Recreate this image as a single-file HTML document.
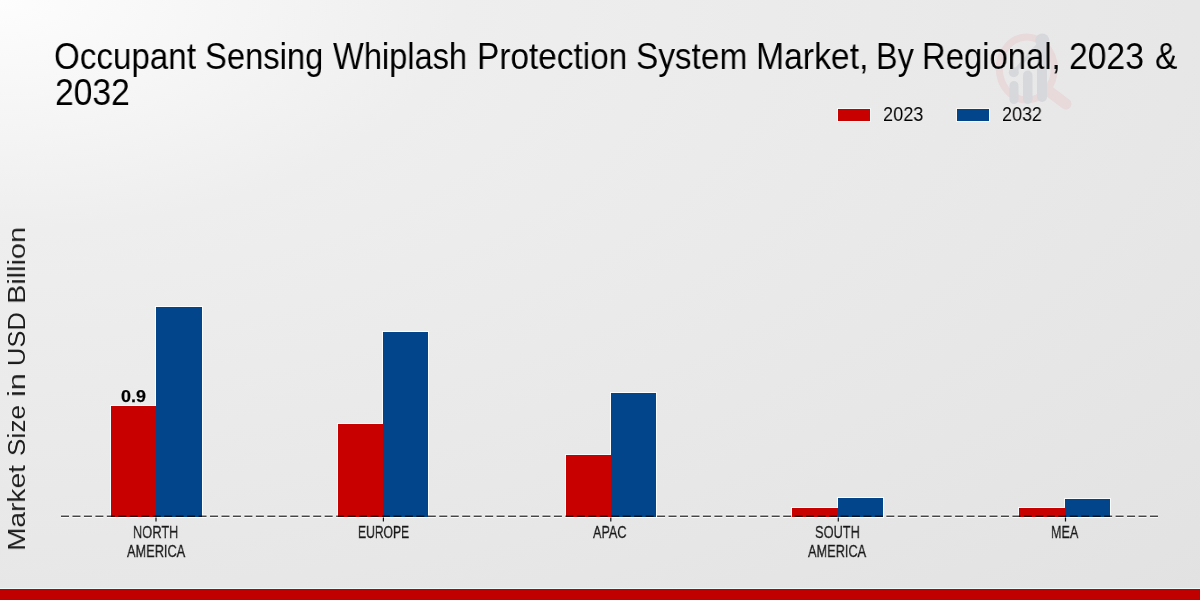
<!DOCTYPE html>
<html><head><meta charset="utf-8"><style>
html,body{margin:0;padding:0;}
body{width:1200px;height:600px;position:relative;overflow:hidden;
background:radial-gradient(1700px 850px at 0 0,#fdfdfd 0%,#eeeeee 27%,#e7e7e7 70%,#e2e2e2 100%);
font-family:"Liberation Sans",sans-serif;}
.t{position:absolute;white-space:nowrap;line-height:1;transform-origin:0 0;will-change:transform;text-shadow:0 0 1px rgba(255,255,255,.9),0 0 1px rgba(255,255,255,.9);}
.b{position:absolute;}
</style></head><body>
<svg style="position:absolute;left:0;top:0" width="1200" height="600">
<g opacity="1">
<ellipse cx="1026.8" cy="68.5" rx="27.5" ry="31.5" fill="none" stroke="#e8d9db" stroke-width="7"/>
<line x1="1050" y1="92" x2="1066" y2="104" stroke="#e8d9db" stroke-width="11" stroke-linecap="round"/>
<rect x="1009.5" y="81" width="9" height="23" rx="4.5" fill="#d6d8db"/>
<circle cx="1013.8" cy="72.3" r="5" fill="#d6d8db"/>
<rect x="1023" y="70.5" width="9.5" height="33.5" rx="4.7" fill="#d6d8db"/>
<rect x="1037" y="44" width="10" height="58" rx="5" fill="#d6d8db"/>
<circle cx="1042.3" cy="40.5" r="7" fill="#d6d8db"/>

<polyline points="1013.8,72.3 1027.8,56 1042.3,40.5" fill="none" stroke="#d6d8db" stroke-width="3.5"/>
</g></svg>
<svg style="position:absolute;left:0;top:0" width="1200" height="600"><line x1="61" y1="516.2" x2="1159" y2="516.2" stroke="#ffffff" stroke-opacity=".85" stroke-width="3.4" stroke-dasharray="8 3.463"/></svg>
<div class="b" style="left:155.5px;top:307.30px;width:46.00px;height:209.70px;background:#03458a;box-shadow:0 0 0 1px rgba(255,255,255,.85)"></div>
<div class="b" style="left:383.0px;top:331.80px;width:45.30px;height:185.20px;background:#03458a;box-shadow:0 0 0 1px rgba(255,255,255,.85)"></div>
<div class="b" style="left:610.5px;top:393.20px;width:45.00px;height:123.80px;background:#03458a;box-shadow:0 0 0 1px rgba(255,255,255,.85)"></div>
<div class="b" style="left:838px;top:498.30px;width:45.00px;height:18.70px;background:#03458a;box-shadow:0 0 0 1px rgba(255,255,255,.85)"></div>
<div class="b" style="left:1065.2px;top:498.50px;width:45.10px;height:18.50px;background:#03458a;box-shadow:0 0 0 1px rgba(255,255,255,.85)"></div>
<div class="b" style="left:110.5px;top:405.80px;width:45.00px;height:111.20px;background:#c80000;box-shadow:-1px -1px 0 0 rgba(245,255,255,.85),0 1px 0 0 rgba(255,255,255,.85)"></div>
<div class="b" style="left:337.8px;top:424.00px;width:45.20px;height:93.00px;background:#c80000;box-shadow:-1px -1px 0 0 rgba(245,255,255,.85),0 1px 0 0 rgba(255,255,255,.85)"></div>
<div class="b" style="left:565.5px;top:455.00px;width:45.00px;height:62.00px;background:#c80000;box-shadow:-1px -1px 0 0 rgba(245,255,255,.85),0 1px 0 0 rgba(255,255,255,.85)"></div>
<div class="b" style="left:792px;top:508.20px;width:46.00px;height:8.80px;background:#c80000;box-shadow:-1px -1px 0 0 rgba(245,255,255,.85),0 1px 0 0 rgba(255,255,255,.85)"></div>
<div class="b" style="left:1019.2px;top:508.30px;width:46.00px;height:8.70px;background:#c80000;box-shadow:-1px -1px 0 0 rgba(245,255,255,.85),0 1px 0 0 rgba(255,255,255,.85)"></div>
<svg style="position:absolute;left:0;top:0" width="1200" height="600">
<line x1="61" y1="516.2" x2="1159" y2="516.2" stroke="#000" stroke-opacity=".72" stroke-width="1.4" stroke-dasharray="8 3.463"/>
<line x1="156.0" y1="517.5" x2="156.0" y2="521.5" stroke="#111" stroke-width="1.2"/>
<line x1="383.4" y1="517.5" x2="383.4" y2="521.5" stroke="#111" stroke-width="1.2"/>
<line x1="610.8" y1="517.5" x2="610.8" y2="521.5" stroke="#111" stroke-width="1.2"/>
<line x1="838.3" y1="517.5" x2="838.3" y2="521.5" stroke="#111" stroke-width="1.2"/>
<line x1="1065.5" y1="517.5" x2="1065.5" y2="521.5" stroke="#111" stroke-width="1.2"/>
</svg>
<div class="b" style="left:838px;top:109px;width:32px;height:12.3px;background:#c80000;box-shadow:0 0 0 1px rgba(245,255,255,.8)"></div>
<div class="b" style="left:957px;top:109px;width:32px;height:12.3px;background:#03458a;box-shadow:0 0 0 1px rgba(255,250,245,.8)"></div>
<div class="t" style="left:53.71px;top:39.05px;font-size:36.96px;font-weight:400;color:#000;transform:scaleX(0.8974)">Occupant</div>
<div class="t" style="left:205.23px;top:39.05px;font-size:36.96px;font-weight:400;color:#000;transform:scaleX(0.8857)">Sensing</div>
<div class="t" style="left:332.75px;top:39.05px;font-size:36.96px;font-weight:400;color:#000;transform:scaleX(0.8817)">Whiplash</div>
<div class="t" style="left:476.79px;top:39.05px;font-size:36.96px;font-weight:400;color:#000;transform:scaleX(0.9037)">Protection</div>
<div class="t" style="left:635.69px;top:39.05px;font-size:36.96px;font-weight:400;color:#000;transform:scaleX(0.9034)">System</div>
<div class="t" style="left:756.01px;top:39.05px;font-size:36.96px;font-weight:400;color:#000;transform:scaleX(0.9124)">Market,</div>
<div class="t" style="left:876.12px;top:39.05px;font-size:36.96px;font-weight:400;color:#000;transform:scaleX(0.875)">By</div>
<div class="t" style="left:922.33px;top:39.05px;font-size:36.96px;font-weight:400;color:#000;transform:scaleX(0.8887)">Regional,</div>
<div class="t" style="left:1069.48px;top:39.05px;font-size:36.96px;font-weight:400;color:#000;transform:scaleX(0.9114)">2023</div>
<div class="t" style="left:1154.89px;top:39.05px;font-size:36.96px;font-weight:400;color:#000;transform:scaleX(0.9087)">&amp;</div>
<div class="t" style="left:54.55px;top:74.75px;font-size:36.43px;font-weight:400;color:#000;transform:scaleX(0.9234)">2032</div>
<div class="t" style="left:882.85px;top:104.35px;font-size:20.14px;font-weight:400;color:#000;transform:scaleX(0.9012)">2023</div>
<div class="t" style="left:1002.01px;top:104.35px;font-size:20.14px;font-weight:400;color:#000;transform:scaleX(0.8919)">2032</div>
<div class="t" style="left:133.0px;top:524.2px;font-size:17.1px;font-weight:400;color:#1a1a1a;-webkit-text-stroke:0.3px #111;transform:scaleX(0.7509)">NORTH</div>
<div class="t" style="left:127.1px;top:544.3px;font-size:16.81px;font-weight:400;color:#1a1a1a;-webkit-text-stroke:0.3px #111;transform:scaleX(0.7605)">AMERICA</div>
<div class="t" style="left:357.79px;top:524.2px;font-size:17.1px;font-weight:400;color:#1a1a1a;-webkit-text-stroke:0.3px #111;transform:scaleX(0.7085)">EUROPE</div>
<div class="t" style="left:593.25px;top:524.2px;font-size:17.1px;font-weight:400;color:#1a1a1a;-webkit-text-stroke:0.3px #111;transform:scaleX(0.7386)">APAC</div>
<div class="t" style="left:815.05px;top:524.2px;font-size:17.1px;font-weight:400;color:#1a1a1a;-webkit-text-stroke:0.3px #111;transform:scaleX(0.75)">SOUTH</div>
<div class="t" style="left:808.3px;top:544.3px;font-size:16.81px;font-weight:400;color:#1a1a1a;-webkit-text-stroke:0.3px #111;transform:scaleX(0.7592)">AMERICA</div>
<div class="t" style="left:1051.26px;top:524.2px;font-size:17.1px;font-weight:400;color:#1a1a1a;-webkit-text-stroke:0.3px #111;transform:scaleX(0.7361)">MEA</div>
<div class="t" style="left:120.87px;top:388.35px;font-size:16.48px;font-weight:700;color:#000;-webkit-text-stroke:0.25px #000;transform:scaleX(1.09)">0.9</div>
<div class="t" style="left:5.15px;top:550.53px;font-size:24.2px;color:#1a1a1a;transform:rotate(-90deg) scaleX(1.1625)">Market</div>
<div class="t" style="left:5.15px;top:456.08px;font-size:24.2px;color:#1a1a1a;transform:rotate(-90deg) scaleX(1.0833)">Size</div>
<div class="t" style="left:5.15px;top:397.03px;font-size:24.2px;color:#1a1a1a;transform:rotate(-90deg) scaleX(1.2667)">in</div>
<div class="t" style="left:5.15px;top:365.6px;font-size:24.2px;color:#1a1a1a;transform:rotate(-90deg) scaleX(1.0521)">USD</div>
<div class="t" style="left:5.15px;top:303.89px;font-size:24.2px;color:#1a1a1a;transform:rotate(-90deg) scaleX(1.1934)">Billion</div>
<div class="b" style="left:0;top:588px;width:1200px;height:1px;background:#eafcfc"></div>
<div class="b" style="left:0;top:589px;width:1200px;height:11px;background:#c00000"></div>
</body></html>
